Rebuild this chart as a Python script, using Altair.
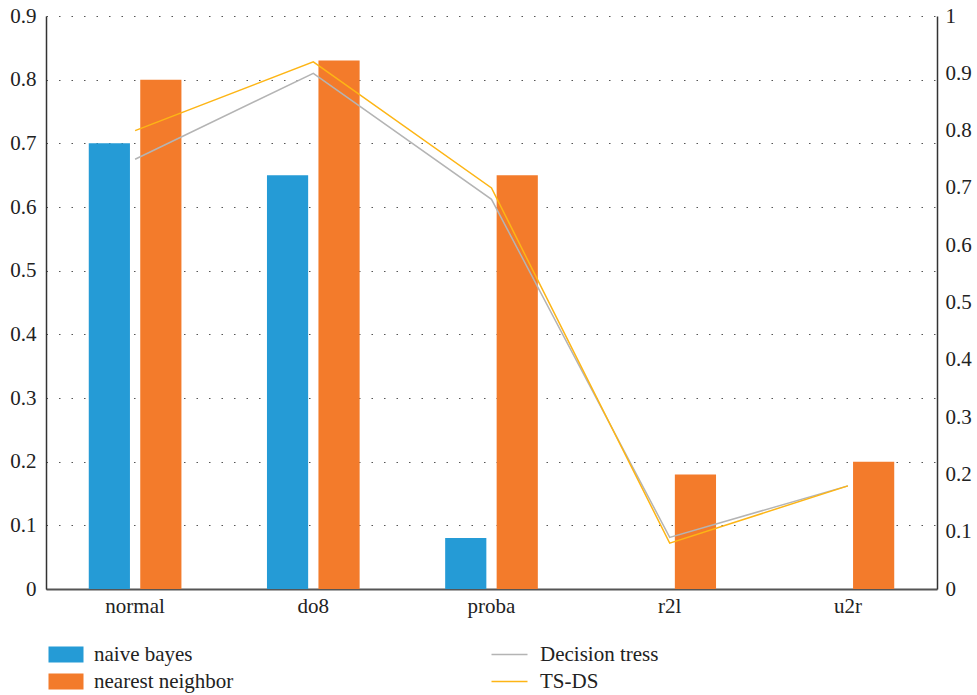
import altair as alt
import pandas as pd

categories = ["normal", "do8", "proba", "r2l", "u2r"]
naive_bayes = [0.70, 0.65, 0.08, 0.0, 0.0]
nearest_neighbor = [0.80, 0.83, 0.65, 0.18, 0.20]
decision_tress = [0.75, 0.90, 0.68, 0.09, 0.18]
ts_ds = [0.80, 0.92, 0.70, 0.08, 0.18]

bar_series = ["naive bayes", "nearest neighbor"]
line_series = ["Decision tress", "TS-DS"]

bars = pd.DataFrame(
    [{"cat": c, "series": bar_series[0], "v": v} for c, v in zip(categories, naive_bayes)]
    + [{"cat": c, "series": bar_series[1], "v": v} for c, v in zip(categories, nearest_neighbor)]
)
lines = pd.DataFrame(
    [{"cat": c, "series": line_series[0], "v": v} for c, v in zip(categories, decision_tress)]
    + [{"cat": c, "series": line_series[1], "v": v} for c, v in zip(categories, ts_ds)]
)

FONT = "Liberation Serif, Times New Roman, serif"
FS = 21
TXT = "#222"

x_enc = alt.X(
    "cat:N",
    sort=categories,
    title=None,
    scale=alt.Scale(paddingInner=0.48, paddingOuter=0.24),
    axis=alt.Axis(
        labelAngle=0, labelFont=FONT, labelFontSize=FS, labelColor=TXT,
        ticks=False, domainColor="#555", domainWidth=2, labelPadding=6, grid=False,
    ),
)

bar_layer = alt.Chart(bars).mark_bar().encode(
    x=x_enc,
    xOffset=alt.XOffset("series:N", sort=bar_series, scale=alt.Scale(paddingInner=0.2)),
    y=alt.Y(
        "v:Q",
        title=None,
        scale=alt.Scale(domain=[0, 0.9], nice=False),
        axis=alt.Axis(
            values=[0, 0.1, 0.2, 0.3, 0.4, 0.5, 0.6, 0.7, 0.8, 0.9],
            format="~g", labelFont=FONT, labelFontSize=FS, labelColor=TXT,
            ticks=False, domainColor="#333", domainWidth=1.5, labelPadding=10,
            grid=True, gridColor="#555", gridDash=[1.5, 11], gridWidth=1.2,
        ),
    ),
    color=alt.Color(
        "series:N",
        sort=bar_series,
        scale=alt.Scale(domain=bar_series, range=["#259BD6", "#F37B2B"]),
        legend=alt.Legend(
            title=None, orient="none", legendX=9.5, legendY=628, direction="vertical",
            symbolType="M-2.1875,-1L2.1875,-1L2.1875,1L-2.1875,1Z", symbolSize=256,
            symbolStrokeWidth=0, labelFont=FONT, labelFontSize=FS, labelColor=TXT,
            rowPadding=5, labelOffset=17.5, padding=0,
        ),
    ),
)

line_layer = alt.Chart(lines).mark_line(strokeWidth=1.5).encode(
    x=alt.X("cat:N", sort=categories),
    y=alt.Y(
        "v:Q",
        title=None,
        scale=alt.Scale(domain=[0, 1], nice=False),
        axis=alt.Axis(
            orient="right",
            values=[0, 0.1, 0.2, 0.3, 0.4, 0.5, 0.6, 0.7, 0.8, 0.9, 1],
            format="~g", labelFont=FONT, labelFontSize=FS, labelColor=TXT,
            ticks=False, domainColor="#333", domainWidth=1.5, labelPadding=8,
            grid=False,
        ),
    ),
    stroke=alt.Stroke(
        "series:N",
        sort=line_series,
        scale=alt.Scale(domain=line_series, range=["#B4B4B4", "#FDB515"]),
        legend=alt.Legend(
            title=None, orient="none", legendX=453, legendY=628, direction="vertical",
            symbolType="M-2.25,0L2.25,0", symbolSize=256, symbolStrokeWidth=1.5,
            labelFont=FONT, labelFontSize=FS, labelColor=TXT,
            rowPadding=5, labelOffset=20, padding=0,
        ),
    ),
    detail="series:N",
)

chart = (
    alt.layer(bar_layer, line_layer)
    .resolve_scale(y="independent")
    .properties(
        width=891,
        height=573,
        autosize=alt.AutoSizeParams(type="none"),
        padding={"left": 46, "top": 16, "right": 40, "bottom": 106},
        background="white",
    )
    .configure_view(stroke=None)
)

chart.save("out.html", embed_options={"renderer": "svg", "actions": False})
